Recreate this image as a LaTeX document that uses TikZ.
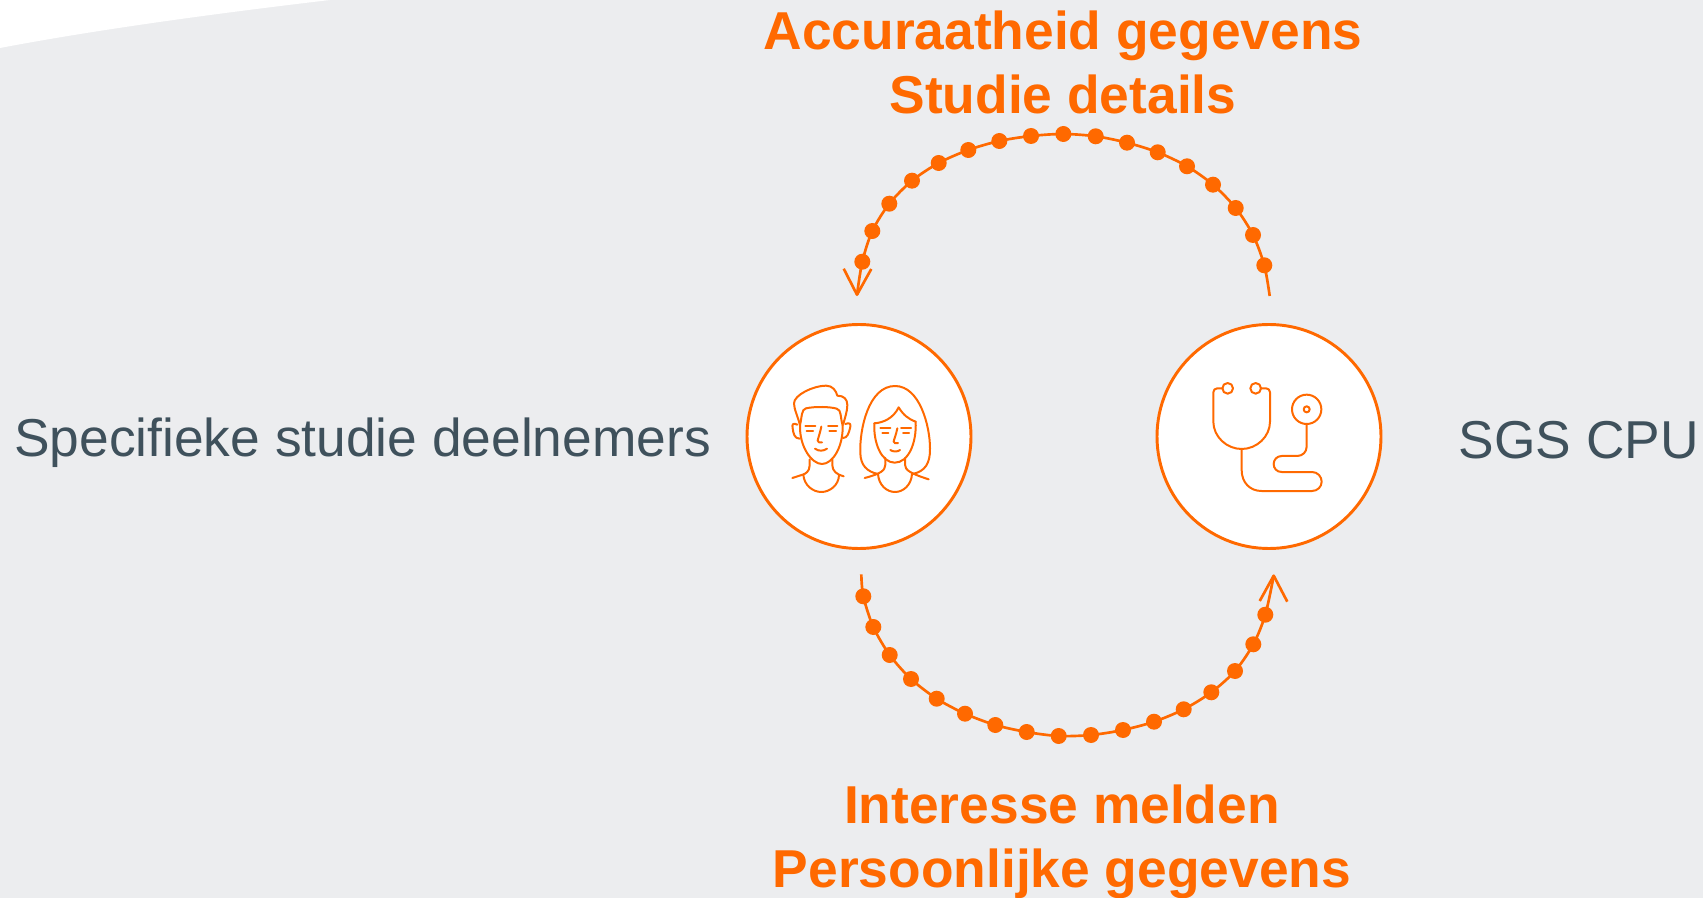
\documentclass[tikz,border=0pt]{standalone}
\usepackage{fontspec}
\setmainfont{Liberation Sans}
\definecolor{sgsorange}{HTML}{FF6900}
\definecolor{sgsbg}{HTML}{ECEDEF}
\definecolor{sgstext}{HTML}{3F515C}
\tikzset{
  px/.style={x=0.75pt,y=-0.75pt},
  hub/.style={circle,draw=sgsorange,fill=white,line width=2.2pt,minimum size=168pt,inner sep=0pt},
  wire/.style={draw=sgsorange,line width=2pt,line join=round},
  bead/.style={circle,fill=sgsorange,minimum size=12pt,inner sep=0pt},
  icon/.style={draw=sgsorange,line width=1.5pt,line cap=round,line join=round,fill=none},
  headline/.style={text=sgsorange,font=\bfseries\fontsize{40pt}{48pt}\selectfont,align=center},
  side/.style={text=sgstext,font=\fontsize{40pt}{46pt}\selectfont,anchor=base west,inner sep=0pt}
}
\begin{document}
\begin{tikzpicture}[px]
\useasboundingbox (0,0) rectangle (1703,898);
\fill[sgsbg] (0,0) rectangle (1703,898);
\fill[white] (0,0) -- (0,48) .. controls (100,29) and (220,13) .. (330,0) -- cycle;

\node[hub] (people) at (859,436.5) {};
\node[hub] (doctor) at (1269,436.5) {};

\node[side] (lefttext) at (14,456) {Specifieke studie deelnemers};
\node[side] (righttext) at (1458.5,459) {SGS CPU};
\node[headline] (top) at (1063,62.5) {Accuraatheid gegevens\\Studie details};
\node[headline] (bottom) at (1062,842) {Interesse melden\\Persoonlijke gegevens};

% top arc
\coordinate (ts) at (1269.7,296);
\coordinate (te) at (857,294.7);
\coordinate (tw1) at (843.7,268.7);
\coordinate (tw2) at (871.3,269);
\foreach \n/\p in {1/{1264.3,265.3},2/{1253,235},3/{1235.7,208},4/{1213,184.7},5/{1187,166.3},6/{1157.7,152.3},7/{1127,142.7},8/{1095.7,136.3},9/{1063.3,134},10/{1031,136},11/{999.3,141},12/{968.3,150},13/{938.7,163},14/{912,180.7},15/{889.3,203.7},16/{872.3,231},17/{862.3,261.7}}
  \coordinate (t\n) at (\p);
\draw[wire] plot[smooth,tension=0.5] coordinates {(ts) (t1) (t2) (t3) (t4) (t5) (t6) (t7) (t8) (t9) (t10) (t11) (t12) (t13) (t14) (t15) (t16) (t17) (te)};
\draw[wire] (tw1) -- (te) -- (tw2);
\foreach \n in {1,...,17} \node[bead] (tb\n) at (t\n) {};

% bottom arc
\coordinate (bs) at (861.3,574.3);
\coordinate (be) at (1273.7,575.7);
\coordinate (bw1) at (1259.7,601);
\coordinate (bw2) at (1287.3,601.7);
\foreach \n/\p in {1/{863.3,596.3},2/{873.3,627},3/{889.7,655},4/{911,679},5/{936.7,698.7},6/{965,713.7},7/{995.3,725},8/{1026.7,732},9/{1058.7,736},10/{1091,735},11/{1123,730},12/{1154,721.7},13/{1183.7,709.3},14/{1211.3,692.3},15/{1235,671},16/{1253.3,644.3},17/{1265.3,614.7}}
  \coordinate (b\n) at (\p);
\draw[wire] plot[smooth,tension=0.5] coordinates {(bs) (b1) (b2) (b3) (b4) (b5) (b6) (b7) (b8) (b9) (b10) (b11) (b12) (b13) (b14) (b15) (b16) (b17) (be)};
\draw[wire] (bw1) -- (be) -- (bw2);
\foreach \n in {1,...,17} \node[bead] (bb\n) at (b\n) {};

% people icon (coordinates in 3x crop pixels)
\begin{scope}[shift={(740,320)},x=0.25pt,y=-0.25pt]
 % man
 \draw[icon] (180,316) .. controls (174,290) and (162,268) .. (162,250) .. controls (162,225) and (220,197) .. (258,197) .. controls (278,197) and (288,212) .. (292,227) .. controls (312,227) and (322,238) .. (322,255) .. controls (322,275) and (314,295) .. (310,312);
 \draw[icon] (180,316) .. controls (186,290) and (184,268) .. (198,265) .. controls (225,259) and (270,260) .. (290,266) .. controls (305,270) and (300,290) .. (308,316);
 \draw[icon] (180,316) .. controls (178,380) and (215,432) .. (246,432) .. controls (278,432) and (310,380) .. (308,316);
 \draw[icon] (172,314) .. controls (160,308) and (155,312) .. (158,325) .. controls (160,340) and (163,356) .. (179,356);
 \draw[icon] (316,312) .. controls (330,306) and (334,312) .. (330,325) .. controls (326,340) and (322,354) .. (309,354);
 \draw[icon] (196,318) -- (226,318) (264,318) -- (292,318) (200,333) -- (219,333) (268,333) -- (288,333);
 \draw[icon] (244,320) .. controls (240,340) and (234,355) .. (233,362) .. controls (233,368) and (240,368) .. (246,367);
 \draw[icon] (225,386) .. controls (235,394) and (250,394) .. (261,386);
 \draw[icon] (209,418) -- (209,436) .. controls (209,455) and (195,462) .. (188,464) -- (157,474);
 \draw[icon] (277,418) -- (277,436) .. controls (277,452) and (290,464) .. (311,469);
 \draw[icon] (190,464) .. controls (192,495) and (218,516) .. (244,516) .. controls (270,516) and (296,495) .. (297,466);
 % woman
 \draw[icon] (414,462) .. controls (380,455) and (362,435) .. (361,400) .. controls (358,330) and (385,198) .. (465,198) .. controls (540,198) and (570,320) .. (570,385) .. controls (571,430) and (555,455) .. (517,462);
 \draw[icon] (403,310) .. controls (430,308) and (460,295) .. (476,262) .. controls (490,285) and (505,297) .. (527,305);
 \draw[icon] (403,310) .. controls (400,370) and (425,428) .. (464,428) .. controls (505,428) and (530,370) .. (527,305);
 \draw[icon] (421,323) -- (451,323) (483,323) -- (513,323) (427,339) -- (445,339) (489,339) -- (507,339);
 \draw[icon] (472,325) .. controls (468,345) and (462,358) .. (461,365) .. controls (461,370) and (468,371) .. (474,369);
 \draw[icon] (451,390) .. controls (460,396) and (472,396) .. (480,390);
 \draw[icon] (436,414) -- (436,434) .. controls (436,452) and (420,462) .. (374,474);
 \draw[icon] (495,414) -- (495,434) .. controls (495,450) and (510,460) .. (566,478);
 \draw[icon] (414,462) .. controls (416,495) and (440,516) .. (465,516) .. controls (490,516) and (514,495) .. (516,462);
\end{scope}

% stethoscope icon
\begin{scope}[shift={(1150,320)},x=0.25pt,y=-0.25pt]
 \draw[icon] (218,205) -- (202,205) .. controls (195,205) and (190,210) .. (190,217) -- (190,305) .. controls (190,350) and (230,387) .. (275,387) .. controls (320,387) and (360,350) .. (360,305) -- (360,217) .. controls (360,210) and (355,205) .. (348,205) -- (332,205);
 \draw[icon] (233,205) circle[radius=16];
 \draw[icon] (317,205) circle[radius=16];
 \draw[icon] (275,387) -- (275,450) .. controls (275,488) and (300,513) .. (335,513) -- (486,513) .. controls (503,513) and (515,500) .. (515,485) .. controls (515,470) and (503,456) .. (486,456) -- (395,456) .. controls (380,456) and (371,445) .. (371,432) .. controls (371,420) and (380,408) .. (395,408) -- (442,408) .. controls (458,408) and (470,395) .. (470,380) -- (470,312);
 \draw[icon] (470,268) circle[radius=44];
 \draw[icon] (470,268) circle[radius=9];
\end{scope}
\end{tikzpicture}
\end{document}
